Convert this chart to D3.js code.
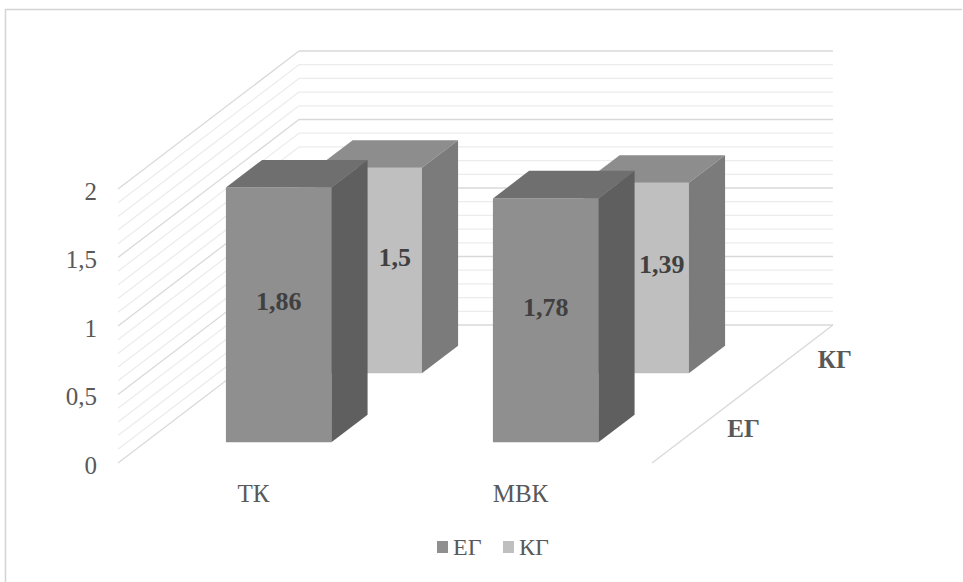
<!DOCTYPE html>
<html>
<head>
<meta charset="utf-8">
<script src="https://cdn.jsdelivr.net/npm/d3@7"></script>
<style>
  html, body { margin: 0; padding: 0; background: #fff; }
  svg { display: block; }
</style>
</head>
<body>
<svg id="chart" width="963" height="582"></svg>
<script>
// Categories, series and their values
const categories = ["ТК", "МВК"];
const series = ["ЕГ", "КГ"];
const valuesEG = [1.86, 1.78];
const valuesKG = [1.5, 1.39];
const yTicks = [0, 0.5, 1, 1.5, 2];
const yMax = 2;
const minorStep = 0.1;

const seriesValues = { "ЕГ": valuesEG, "КГ": valuesKG };

// Face colours per series: front, top, side
const palette = {
  "ЕГ": { front: "#8f8f8f", top: "#6f6f6f", side: "#5f5f5f", legend: "#8f8f8f" },
  "КГ": { front: "#bfbfbf", top: "#8d8d8d", side: "#7b7b7b", legend: "#bfbfbf" }
};

const ru = d3.formatLocale({ decimal: ",", thousands: " ", grouping: [3], currency: ["", ""] });
const fmt = v => ru.format("~g")(v);
const FONT = '"Liberation Serif", "Times New Roman", serif';

const svg = d3.select("#chart");

// Chart frame
svg.append("path")
  .attr("d", "M5.5,600V9.5H962")
  .attr("fill", "none")
  .attr("stroke", "#d4d4d4")
  .attr("stroke-width", 1.5);

// Oblique 3D projection: front plane scales plus a depth offset
const x = d3.scaleBand().domain(categories).range([118, 652]).padding(0);
const y = d3.scaleLinear().domain([0, yMax]).range([463, 189]);
const depthVec = [181, -138];                // full floor depth on screen
const z = d3.scaleBand().domain(series).range([0, 1]).padding(0);
const barHalfDepth = 0.1;                    // as a share of full depth
const barWidth = x.bandwidth() * 0.395;

const P = (px, v, d) => [px + depthVec[0] * d, y(v) + depthVec[1] * d];
const poly = pts => "M" + pts.map(p => p.join(",")).join("L") + "Z";

const walls = svg.append("g");
const gridVals = d3.range(0, yMax + 1e-9, minorStep).map(v => +v.toFixed(2));
const isMajor = v => yTicks.some(t => Math.abs(t - v) < 1e-6);
const x0 = x.range()[0], x1 = x.range()[1];

// Left wall gridlines
walls.selectAll("line.lw").data(gridVals).join("line")
  .attr("class", "lw")
  .attr("x1", d => P(x0, d, 0)[0]).attr("y1", d => P(x0, d, 0)[1])
  .attr("x2", d => P(x0, d, 1)[0]).attr("y2", d => P(x0, d, 1)[1])
  .attr("stroke", d => isMajor(d) ? "#d9d9d9" : "#ececec")
  .attr("stroke-width", 1.3);

// Back wall gridlines
walls.selectAll("line.bw").data(gridVals).join("line")
  .attr("class", "bw")
  .attr("x1", d => P(x0, d, 1)[0]).attr("y1", d => P(x0, d, 1)[1])
  .attr("x2", d => P(x1, d, 1)[0]).attr("y2", d => P(x1, d, 1)[1])
  .attr("stroke", d => isMajor(d) ? "#d9d9d9" : "#ececec")
  .attr("stroke-width", 1.3);

// Right floor edge
walls.append("line")
  .attr("x1", P(x1, 0, 0)[0]).attr("y1", P(x1, 0, 0)[1])
  .attr("x2", P(x1, 0, 1)[0]).attr("y2", P(x1, 0, 1)[1])
  .attr("stroke", "#d9d9d9").attr("stroke-width", 1.3);

// Value axis labels
svg.append("g").selectAll("text").data(yTicks).join("text")
  .attr("x", 97)
  .attr("y", d => y(d) + 2)
  .attr("dy", "0.35em")
  .attr("text-anchor", "end")
  .attr("fill", "#595959")
  .attr("font-family", FONT)
  .attr("font-size", 25)
  .text(d => fmt(d));

// Category labels
svg.append("g").selectAll("text").data(categories).join("text")
  .attr("x", d => x(d) + x.bandwidth() / 2 + 2)
  .attr("y", 493)
  .attr("dy", "0.35em")
  .attr("text-anchor", "middle")
  .attr("fill", "#595959")
  .attr("font-family", FONT)
  .attr("font-size", 25)
  .text(d => d);

// Series (depth) labels beside the floor edge
svg.append("g").selectAll("text").data(series).join("text")
  .attr("x", d => P(x1, 0, z(d) + z.bandwidth() / 2)[0] + 30)
  .attr("y", d => P(x1, 0, z(d) + z.bandwidth() / 2)[1])
  .attr("dy", "0.35em")
  .attr("fill", "#595959")
  .attr("font-family", FONT)
  .attr("font-size", 25)
  .attr("font-weight", "bold")
  .text(d => d);

// Bars: back row first so the front row covers it
const bars = [];
series.slice().reverse().forEach(s => {
  categories.forEach((c, i) => {
    bars.push({ s, c, v: seriesValues[s][i] });
  });
});

const barG = svg.append("g");
bars.forEach(b => {
  const xl = x(b.c) + (x.bandwidth() - barWidth) / 2;
  const xr = xl + barWidth;
  const dc = z(b.s) + z.bandwidth() / 2;
  const df = dc - barHalfDepth, db = dc + barHalfDepth;
  const col = palette[b.s];
  const g = barG.append("g");
  // front face
  g.append("path").attr("fill", col.front)
    .attr("d", poly([P(xl, 0, df), P(xr, 0, df), P(xr, b.v, df), P(xl, b.v, df)]));
  // top face
  g.append("path").attr("fill", col.top)
    .attr("d", poly([P(xl, b.v, df), P(xr, b.v, df), P(xr, b.v, db), P(xl, b.v, db)]));
  // side face
  g.append("path").attr("fill", col.side)
    .attr("d", poly([P(xr, 0, df), P(xr, 0, db), P(xr, b.v, db), P(xr, b.v, df)]));
  b.geom = { xl, xr, df, db, dc };
});

// Value labels, centred on the visible part of each front face
const frontRow = series[0];
bars.forEach(b => {
  const g = b.geom;
  let cx = (P(g.xl, 0, g.df)[0] + P(g.xr, 0, g.df)[0]) / 2;
  if (b.s !== frontRow) {
    const front = bars.find(o => o.s === frontRow && o.c === b.c);
    const occl = P(front.geom.xr, 0, front.geom.db)[0];
    cx = (occl + P(g.xr, 0, g.df)[0]) / 2;
  }
  const cy = P(0, b.v / 2, g.dc)[1];
  svg.append("text")
    .attr("x", cx)
    .attr("y", cy)
    .attr("dy", "0.35em")
    .attr("text-anchor", "middle")
    .attr("fill", "#404040")
    .attr("font-family", FONT)
    .attr("font-size", 26)
    .attr("font-weight", "bold")
    .text(fmt(b.v));
});

// Legend
const legend = svg.append("g");
const legendX = [437, 503];
series.forEach((s, i) => {
  legend.append("rect")
    .attr("x", legendX[i]).attr("y", 541)
    .attr("width", 11).attr("height", 12)
    .attr("fill", palette[s].legend);
  legend.append("text")
    .attr("x", legendX[i] + 16).attr("y", 547)
    .attr("dy", "0.35em")
    .attr("fill", "#595959")
    .attr("font-family", FONT)
    .attr("font-size", 24)
    .text(s);
});
</script>
</body>
</html>
